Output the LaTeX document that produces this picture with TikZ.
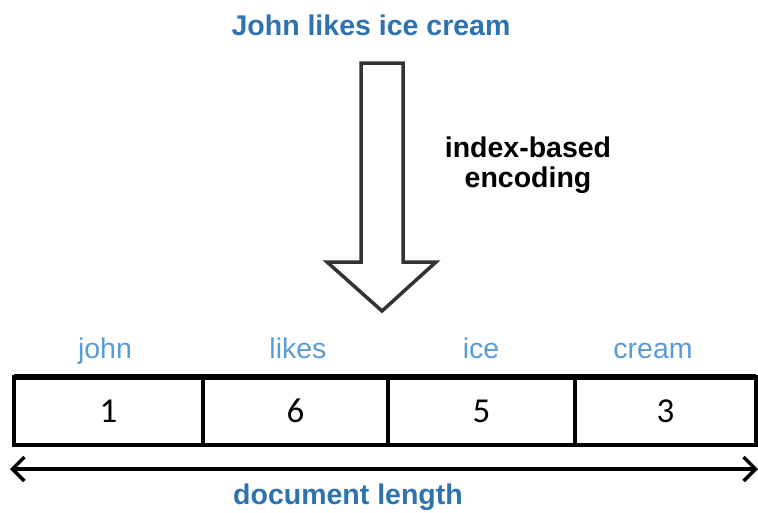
\documentclass[tikz,border=0pt]{standalone}
\usepackage{fontspec}
\setmainfont{Liberation Sans}
\newfontfamily\digitfont{Carlito}
\usetikzlibrary{arrows.meta}
\definecolor{titleblue}{HTML}{2E72B0}
\definecolor{wordblue}{HTML}{5B9BD5}
\definecolor{arrowgray}{HTML}{333333}
\begin{document}
\begin{tikzpicture}[x=1pt,y=-1pt,
  headline/.style={font=\fontsize{28.5}{30}\selectfont\bfseries, text=titleblue, anchor=base, inner sep=0pt},
  wordlabel/.style={font=\fontsize{28.5}{30}\selectfont, text=wordblue, anchor=base, inner sep=0pt},
  cell/.style={draw=black, line width=3.5pt, rectangle, minimum height=68pt, inner sep=0pt, outer sep=0pt,
    font=\digitfont\fontsize{35}{36}\selectfont},
  blockarrow/.style={draw=arrowgray, line width=3.5pt, fill=white, line join=miter},
  spanline/.style={line width=3.5pt, {Straight Barb[length=12pt,width=24pt]}-{Straight Barb[length=12pt,width=24pt]}}
]
\useasboundingbox (0,0) rectangle (758,512);

% sentence and encoding step
\node[headline] (title) at (371,35) {John likes ice cream};
\draw[blockarrow] (361,63) -- (403,63) -- (403,262) -- (436,262) -- (382,311)
  -- (327,262) -- (361,262) -- cycle;
\node[font=\fontsize{28.5}{30}\selectfont\bfseries, align=center, anchor=base, inner sep=0pt] (enc)
  at (528,187) {index-based\\encoding};

% encoded vector
\node[cell, minimum width=189pt] (c1) at (108.5,411) {1};
\node[cell, minimum width=185pt] (c2) at (295.5,411) {6};
\node[cell, minimum width=187pt] (c3) at (481.5,411) {5};
\node[cell, minimum width=181pt] (c4) at (665.5,411) {3};
\draw[line width=5.5pt] (c1.north west) -- (c4.north east);

% word labels
\node[wordlabel] (w1) at (105,358) {john};
\node[wordlabel] (w2) at (298,358) {likes};
\node[wordlabel] (w3) at (481,358) {ice};
\node[wordlabel] (w4) at (653,358) {cream};

% document length span
\coordinate (sl) at (10,469);
\coordinate (sr) at (758,469);
\draw[spanline] (sl) -- (sr);
\node[headline] (len) at (348,504) {document length};
\end{tikzpicture}
\end{document}
